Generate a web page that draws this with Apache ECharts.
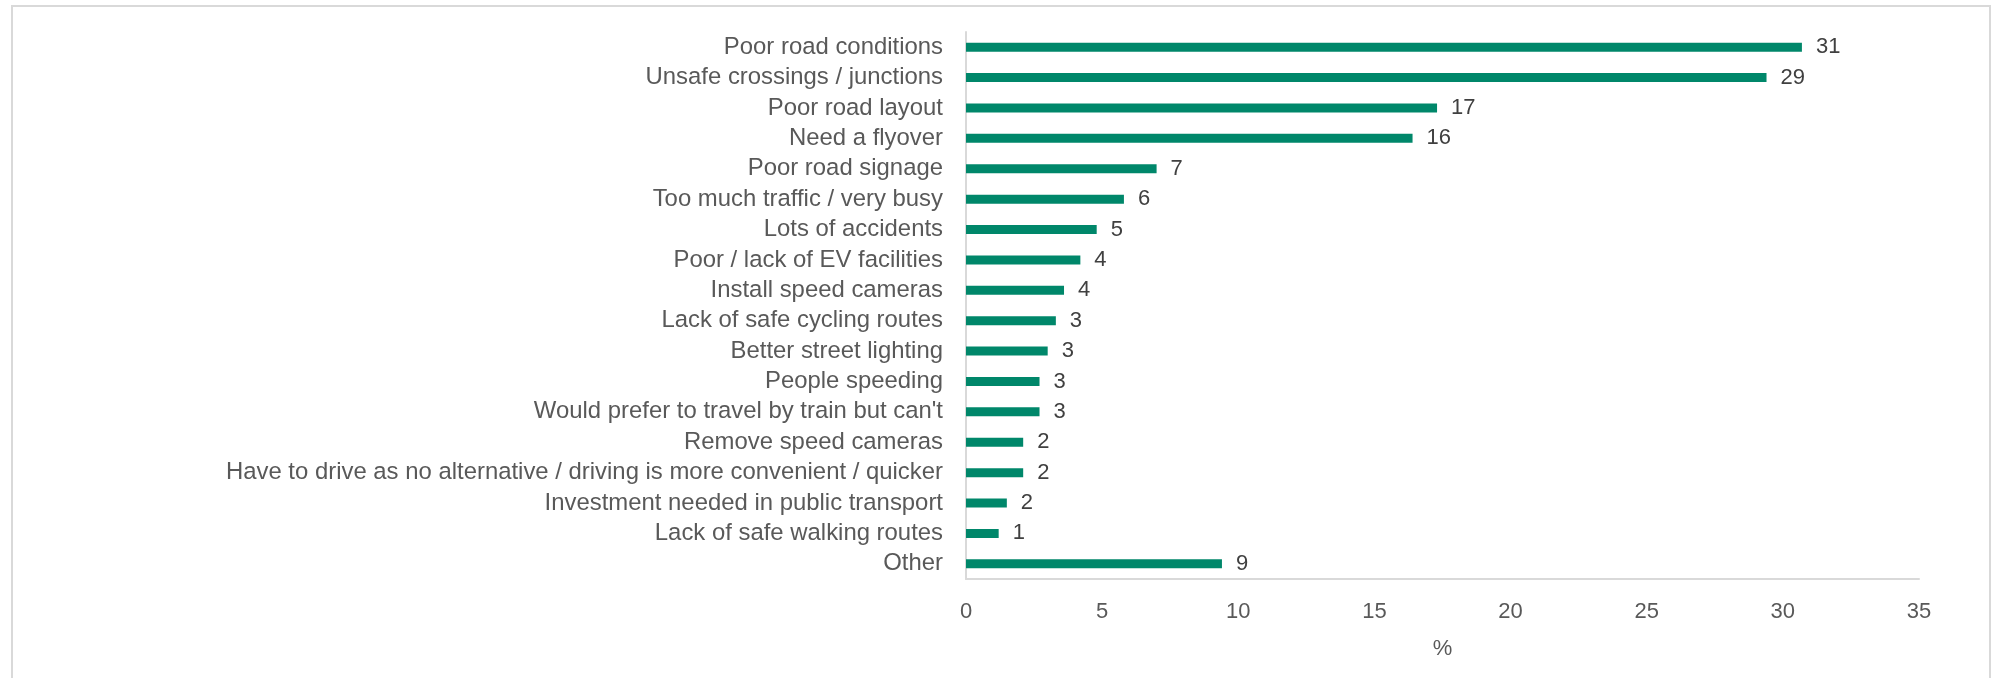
<!DOCTYPE html>
<html>
<head>
    <meta charset="utf-8">
    <title>Road safety concerns</title>
    <script src="https://cdn.jsdelivr.net/npm/echarts@6/dist/echarts.min.js"></script>
    <style>
        html, body { margin: 0; padding: 0; background: #fff; }
        #frame {
            position: absolute; left: 11px; top: 5px; width: 1976px; height: 680px;
            border-left: 2px solid #d9d9d9; border-top: 2px solid #d9d9d9; border-right: 2px solid #d9d9d9;
        }
        #chart { position: absolute; left: 0; top: 0; width: 1992px; height: 678px; }
    </style>
</head>
<body>
<div id="frame"></div>
<div id="chart"></div>
<script>
    // categories from top to bottom as in the picture
    var categories = [
        'Poor road conditions',
        'Unsafe crossings / junctions',
        'Poor road layout',
        'Need a flyover',
        'Poor road signage',
        'Too much traffic / very busy',
        'Lots of accidents',
        'Poor / lack of EV facilities',
        'Install speed cameras',
        'Lack of safe cycling routes',
        'Better street lighting',
        'People speeding',
        "Would prefer to travel by train but can't",
        'Remove speed cameras',
        'Have to drive as no alternative / driving is more convenient / quicker',
        'Investment needed in public transport',
        'Lack of safe walking routes',
        'Other'
    ];
    // bar lengths (unrounded)
    var values = [30.7, 29.4, 17.3, 16.4, 7.0, 5.8, 4.8, 4.2, 3.6, 3.3, 3.0, 2.7, 2.7, 2.1, 2.1, 1.5, 1.2, 9.4];
    // labels shown next to the bars
    var valueLabels = [31, 29, 17, 16, 7, 6, 5, 4, 4, 3, 3, 3, 3, 2, 2, 2, 1, 9];
    var xTicks = [0, 5, 10, 15, 20, 25, 30, 35];

    var myChart = echarts.init(document.getElementById('chart'));
    myChart.setOption({
        animation: false,
        textStyle: { fontFamily: 'Liberation Sans, Arial, sans-serif' },
        grid: { left: 966, right: 73, top: 32, bottom: 99, containLabel: false },
        xAxis: {
            type: 'value',
            min: xTicks[0],
            max: xTicks[xTicks.length - 1],
            interval: 5,
            name: '%',
            nameLocation: 'middle',
            nameGap: 59,
            nameTextStyle: { color: '#595959', fontSize: 22 },
            axisLine: { show: true, lineStyle: { color: '#d9d9d9', width: 2 } },
            axisTick: { show: false },
            splitLine: { show: false },
            axisLabel: { color: '#595959', fontSize: 22, margin: 22 }
        },
        yAxis: {
            type: 'category',
            inverse: true,
            data: categories,
            axisLine: { show: true, lineStyle: { color: '#d9d9d9', width: 2 } },
            axisTick: { show: false },
            axisLabel: { color: '#595959', fontSize: 23.9, margin: 23, interval: 0 }
        },
        series: [{
            type: 'bar',
            data: values,
            barWidth: 9,
            itemStyle: { color: '#00876a' },
            label: {
                show: true,
                position: 'right',
                distance: 14,
                color: '#404040',
                fontSize: 22,
                formatter: function (p) { return valueLabels[p.dataIndex]; }
            }
        }]
    });
</script>
</body>
</html>
